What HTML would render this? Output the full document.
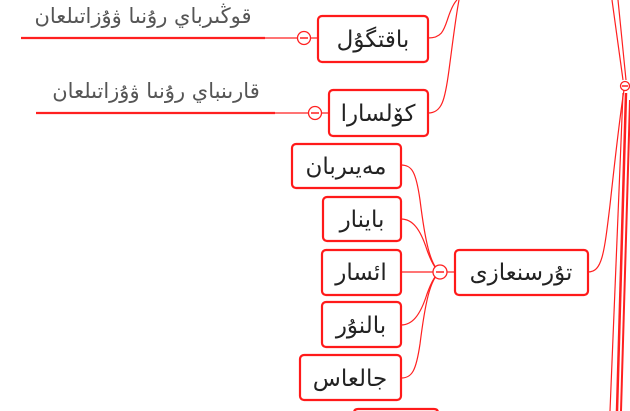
<!DOCTYPE html>
<html><head><meta charset="utf-8"><style>
html,body{margin:0;padding:0;background:#fff;width:630px;height:411px;overflow:hidden}
svg{display:block}
svg text{font-family:"DejaVu Sans","Liberation Sans",sans-serif}
</style></head><body>
<svg width="630" height="411" viewBox="0 0 630 411" xmlns="http://www.w3.org/2000/svg">
<g fill="none" stroke="#ff2020" stroke-width="1.2">
<path d="M428 38 C442 38 444 30 448 18 C452 6 455 2 457 0"/>
<path d="M428 113 C442 113 445 100 449 70 C453 40 456 15 459 0"/>
<path d="M588 272 C602 272 604 255 610 205 C616 150 620 115 624 90"/>
<path d="M612 0 L623 80"/>
<path d="M618 0 L626 80"/>
<path d="M623 93 L610 411"/>
<path d="M626 93 L617 411" stroke-width="2.5"/>
<path d="M630 100 L621 411" stroke-width="2"/>
<path d="M401 165 C412 165 416 172 420 200 C425 240 430 265 440 272"/>
<path d="M401 219 C412 219 420 228 427 250 C432 264 436 270 440 272"/>
<path d="M401 272 L433 272"/>
<path d="M401 325 C412 325 420 316 427 294 C432 280 436 274 440 272"/>
<path d="M401 378 C412 378 416 371 420 344 C425 304 430 279 440 272"/>
<path d="M447 272 L455 272"/>
<path d="M265 38 L318 38"/>
<path d="M275 113 L329 113"/>
</g>
<g stroke="#ff2020" stroke-width="2.2">
<line x1="21" y1="38" x2="265" y2="38"/>
<line x1="36" y1="113" x2="275" y2="113"/>
</g>
<g fill="#fff" stroke="#ff2020" stroke-width="1.3">
<circle cx="304" cy="38" r="6.5"/>
<circle cx="315" cy="113" r="6.5"/>
<circle cx="440" cy="272" r="7"/>
<circle cx="625" cy="86" r="4.5"/>
</g>
<g stroke="#ff2020" stroke-width="1.5">
<line x1="300" y1="38" x2="308" y2="38"/>
<line x1="311" y1="113" x2="319" y2="113"/>
<line x1="436" y1="272" x2="444" y2="272"/>
<line x1="622" y1="86" x2="628" y2="86"/>
</g>
<g fill="#fff" stroke="#ff1a1a" stroke-width="2.2">
<rect x="318" y="16" width="110" height="46" rx="4"/>
<rect x="329" y="90" width="99" height="46" rx="4"/>
<rect x="292" y="144" width="109" height="44" rx="4"/>
<rect x="323" y="197" width="78" height="44" rx="4"/>
<rect x="322" y="250" width="79" height="45" rx="4"/>
<rect x="322" y="302" width="79" height="45" rx="4"/>
<rect x="300" y="355" width="101" height="45" rx="4"/>
<rect x="455" y="250" width="133" height="45" rx="4"/>
</g>
<path d="M354 411 L354 413 Q354 409 358 409 L434 409 Q438 409 438 413" fill="none" stroke="#ff1a1a" stroke-width="2.2"/>
<g fill="#222" font-size="23" text-anchor="middle">
<text x="373" y="47" direction="rtl">باقتگۇل</text>
<text x="378" y="121" direction="rtl">كۆلسارا</text>
<text x="346" y="174" direction="rtl">مەيىربان</text>
<text x="362" y="227" direction="rtl">باينار</text>
<text x="361" y="280" direction="rtl">ائسار</text>
<text x="361" y="333" direction="rtl">بالنۇر</text>
<text x="350" y="386" direction="rtl">جالعاس</text>
<text x="521" y="280" direction="rtl">تۇرسنعازى</text>
</g>
<g fill="#555" font-size="21" text-anchor="middle">
<text x="143" y="23" direction="rtl">قوڭىرباي رۇنىا ۋۇزاتىلعان</text>
<text x="156" y="98" direction="rtl">قارىنباي  رۇنىا ۋۇزاتىلعان</text>
</g>
</svg>
</body></html>
